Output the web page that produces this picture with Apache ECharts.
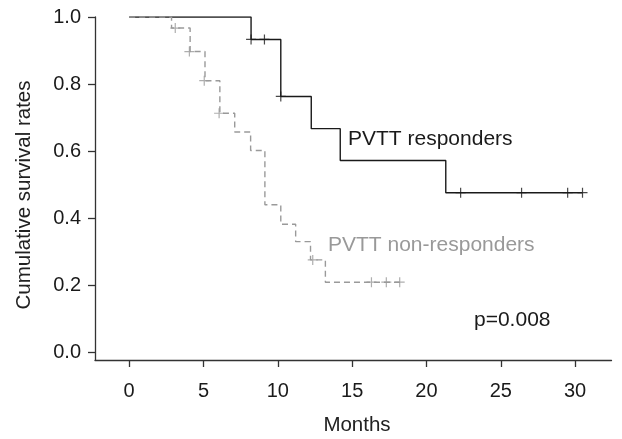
<!DOCTYPE html>
<html>
<head>
<meta charset="utf-8">
<script src="https://cdn.jsdelivr.net/npm/echarts@6/dist/echarts.min.js"></script>
<style>
html,body{margin:0;padding:0;background:#fff;}
#c{width:622px;height:439px;}
</style>
</head>
<body>
<div id="c"></div>
<script>
// Kaplan-Meier step points [month, survival]
var respondersSteps = [[0,1.0],[8.2,0.933],[10.2,0.763],[12.25,0.667],[14.2,0.572],[21.3,0.476],[30.5,0.476]];
var respondersCensored = [[8.2,0.933],[9.1,0.933],[10.2,0.763],[22.3,0.476],[26.4,0.476],[29.5,0.476],[30.5,0.476]];
var nonRespondersSteps = [[0,1.0],[2.85,0.967],[4.1,0.897],[5.1,0.810],[6.1,0.713],[7.1,0.657],[8.17,0.602],[9.13,0.440],[10.2,0.382],[11.2,0.330],[12.2,0.2755],[13.2,0.209],[18.3,0.209]];
var nonRespondersCensored = [[3.1,0.967],[4.05,0.897],[5.05,0.810],[6.05,0.713],[12.35,0.2755],[16.3,0.209],[17.3,0.209],[18.2,0.209]];
var xTicks = [0,5,10,15,20,25,30];
var yTicks = [0,0.2,0.4,0.6,0.8,1.0];

var FONT = 'Liberation Sans, Arial, Helvetica, sans-serif';
var plus = 'path://M4.4,0H5.6V4.4H10V5.6H5.6V10H4.4V5.6H0V4.4H4.4Z';

var chart = echarts.init(document.getElementById('c'), null, {renderer:'canvas'});
chart.setOption({
  animation: false,
  backgroundColor: '#fff',
  grid: {left: 95, right: 10.5, top: 17, bottom: 79, containLabel: false},
  xAxis: {
    type: 'value', min: -2.3, max: 32.45,
    splitLine: {show: false},
    axisLine: {show: true, onZero: false, lineStyle: {color: '#333', width: 1.3}},
    axisTick: {show: true, length: 7, customValues: xTicks, lineStyle: {color: '#333', width: 1.3}},
    axisLabel: {customValues: xTicks, margin: 21, color: '#1a1a1a', fontSize: 20, fontFamily: FONT}
  },
  yAxis: {
    type: 'value', min: -0.023, max: 1.0,
    splitLine: {show: false},
    axisLine: {show: true, onZero: false, lineStyle: {color: '#333', width: 1.3}},
    axisTick: {show: true, length: 7, customValues: yTicks, lineStyle: {color: '#333', width: 1.3}},
    axisLabel: {customValues: yTicks, margin: 14, color: '#1a1a1a', fontSize: 20, fontFamily: FONT,
      formatter: function(v){ return v.toFixed(1); }}
  },
  graphic: [
    {type: 'text', x: 24, y: 195, rotation: Math.PI/2,
     style: {text: 'Cumulative survival rates', fill: '#222', font: '20.5px ' + FONT, align: 'center', verticalAlign: 'middle'}},
    {type: 'text', x: 357, y: 425,
     style: {text: 'Months', fill: '#222', font: '20.5px ' + FONT, align: 'center', verticalAlign: 'middle'}},
    {type: 'text', x: 348, y: 139,
     style: {text: 'PVTT responders', fill: '#1a1a1a', font: '21px ' + FONT, align: 'left', verticalAlign: 'middle'}},
    {type: 'text', x: 328, y: 245,
     style: {text: 'PVTT non-responders', fill: '#999', font: '21px ' + FONT, align: 'left', verticalAlign: 'middle'}},
    {type: 'text', x: 474, y: 320,
     style: {text: 'p=0.008', fill: '#1a1a1a', font: '21px ' + FONT, align: 'left', verticalAlign: 'middle'}}
  ],
  series: [
    {type: 'line', name: 'PVTT responders', data: respondersSteps, step: 'end', showSymbol: false,
     lineStyle: {color: '#1a1a1a', width: 1.4}, z: 2},
    {type: 'line', name: 'PVTT non-responders', data: nonRespondersSteps, step: 'end', showSymbol: false,
     lineStyle: {color: '#9a9a9a', width: 1.4, type: [6,4]}, z: 3},
    {type: 'scatter', data: respondersCensored, symbol: plus, symbolSize: 10,
     itemStyle: {color: '#1a1a1a'}, z: 4},
    {type: 'scatter', data: nonRespondersCensored, symbol: plus, symbolSize: 10,
     itemStyle: {color: '#9a9a9a'}, z: 4}
  ]
});
</script>
</body>
</html>
